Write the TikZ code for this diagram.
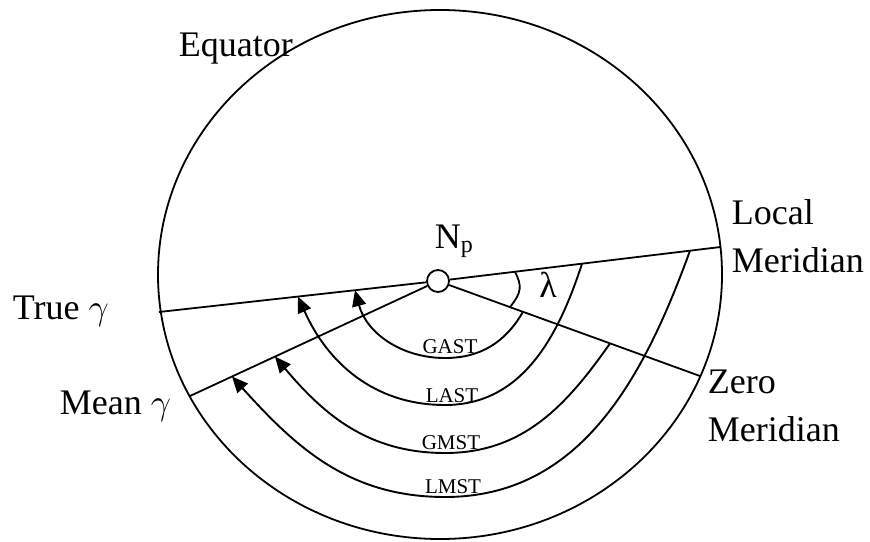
\documentclass[tikz,border=0pt]{standalone}
\usepackage{fix-cm}
\usepackage{fontspec}
\setmainfont{Liberation Serif}
\usetikzlibrary{arrows.meta,positioning}

\begin{document}
\begin{tikzpicture}[
  x=1pt, y=-1pt,
  line width=1.8pt,
  big/.style={font=\fontsize{36}{48}\selectfont, inner sep=0pt},
  tlabel/.style={font=\fontsize{21}{24}\selectfont, inner sep=0pt, anchor=base},
  pole/.style={draw, circle, minimum size=22pt, inner sep=0pt, fill=white},
  arr/.style={-{Triangle[length=16pt, width=14pt]}, line width=1.9pt}
]
  \useasboundingbox (0,0) rectangle (870,541);
  \draw (440,274.5) ellipse [x radius=282, y radius=264.5];

  \coordinate (tg) at (159,312);
  \coordinate (mg) at (190,396);
  \coordinate (lm) at (720.5,247);
  \coordinate (zm) at (700,376);
  \node[pole] (np) at (438,281) {};

  \draw (tg) -- (np);
  \draw (np) -- (lm);
  \draw (mg) -- (np);
  \draw (np) -- (zm);

  \draw (515,271.7) .. controls (522,286) and (522,292) .. (510,307.1);

  \draw[arr] (523,311.8) to[out=240, in=0] (445,358) to[out=180, in=-75] (355,290.2);
  \draw[arr] (582,263.7) to[out=252, in=0] (445,405) to[out=180, in=-66] (298,296.6);
  \draw[arr] (610,343.4) to[out=235, in=0] (445,453) to[out=180, in=-50] (275,356.6);
  \draw[arr] (690,250.7) to[out=250, in=0] (445,497) to[out=180, in=-48] (232,376.5);

  \node[big, anchor=base west] (eqlbl) at (178,56) {Equator};
  \node[big, anchor=base west] (tglbl) at (12,319) {True $\gamma$};
  \node[big, anchor=base west] (mglbl) at (59,414) {Mean $\gamma$};
  \node[big, anchor=base west] (lmlbl) at (731,224) {Local};
  \node[big, anchor=base west] (lmlbl2) at ([yshift=-48pt]lmlbl.base west) {Meridian};
  \node[big, anchor=base west] (zmlbl) at (707,393) {Zero};
  \node[big, anchor=base west] (zmlbl2) at ([yshift=-48pt]zmlbl.base west) {Meridian};
  \node[big, anchor=base] (lam) at (548,297) {λ};
  \node[big, anchor=base west] (nplbl) at (434,248) {N\raisebox{-4pt}{\fontsize{24}{24}\selectfont p}};

  \node[tlabel] (gast) at (450,353) {GAST};
  \node[tlabel] (last) at (452,402) {LAST};
  \node[tlabel] (gmst) at (451,449) {GMST};
  \node[tlabel] (lmst) at (453,493) {LMST};
\end{tikzpicture}
\end{document}
